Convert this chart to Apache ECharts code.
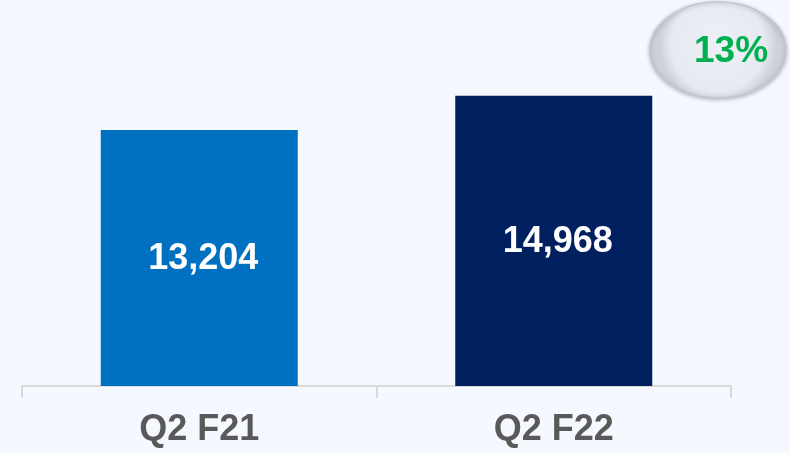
<!DOCTYPE html>
<html>
<head>
<meta charset="utf-8">
<script src="https://cdn.jsdelivr.net/npm/echarts@6/dist/echarts.min.js"></script>
<style>
html,body{margin:0;padding:0;background:#f5f8fe;}
#chart{width:790px;height:453px;}
</style>
</head>
<body>
<div id="chart"></div>
<script>
const categories = ['Q2 F21', 'Q2 F22'];
const values = [13204, 14968];
const barColors = ['#0070c0', '#002060'];
const growthLabel = '13%';

const chart = echarts.init(document.getElementById('chart'), null, {renderer: 'canvas'});
const font = '"Liberation Sans", Arial, sans-serif';
chart.setOption({
  backgroundColor: '#f5f8fe',
  animation: false,
  grid: {left: 22, right: 59, top: 37, bottom: 67},
  xAxis: {
    type: 'category',
    data: categories,
    axisLine: {lineStyle: {color: '#d9d9d9', width: 2}},
    axisTick: {show: true, length: 12, lineStyle: {color: '#d9d9d9', width: 2}},
    axisLabel: {color: '#595959', fontSize: 36, fontWeight: 'bold', fontFamily: font, margin: 26}
  },
  yAxis: {type: 'value', min: 0, max: 18000, show: false, splitLine: {show: false}},
  series: [{
    type: 'bar',
    barWidth: 197,
    data: values.map((v, i) => ({value: v, itemStyle: {color: barColors[i]}})),
    label: {
      show: true,
      position: 'inside',
      offset: [4, 1],
      color: '#ffffff',
      fontSize: 36,
      fontWeight: 'bold',
      fontFamily: font,
      formatter: p => p.value.toLocaleString('en-US')
    }
  }],
  graphic: [{
    type: 'ellipse',
    shape: {cx: 718, cy: 50, rx: 68, ry: 48},
    style: {
      fill: new echarts.graphic.RadialGradient(0.5, 0.45, 0.6, [
        {offset: 0, color: '#eef0f7'},
        {offset: 0.8, color: '#e8eaf2'},
        {offset: 1, color: '#cfd1d9'}
      ]),
      stroke: '#c4c6ce',
      lineWidth: 1.5,
      shadowBlur: 4,
      shadowColor: 'rgba(0,0,0,0.25)',
      shadowOffsetY: 1
    },
    z: 10
  }, {
    type: 'text',
    x: 731,
    y: 52,
    style: {
      text: growthLabel,
      fill: '#00b050',
      font: 'bold 37px "Liberation Sans", Arial, sans-serif',
      textAlign: 'center',
      textVerticalAlign: 'middle'
    },
    z: 11
  }]
});
</script>
</body>
</html>
